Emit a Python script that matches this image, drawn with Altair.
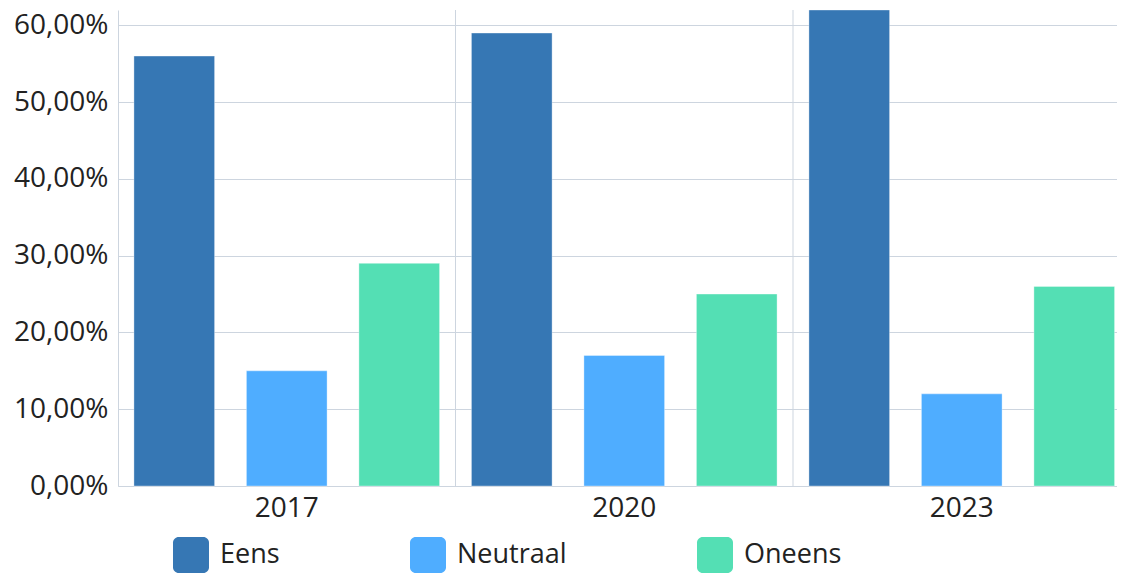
import altair as alt
import pandas as pd

years = ["2017", "2020", "2023"]
categories = ["Eens", "Neutraal", "Oneens"]
eens = [56, 59, 62]
neutraal = [15, 17, 12]
oneens = [29, 25, 26]
colors = ["#3677B4", "#4FADFF", "#54DFB4"]

rows = []
for i, y in enumerate(years):
    for c, vals in zip(categories, [eens, neutraal, oneens]):
        rows.append({"year": y, "cat": c, "value": vals[i]})
df = pd.DataFrame(rows)
sep = pd.DataFrame({"year": years[1:]})

FONT = "Open Sans"
FS = 28
LFS = 27
GRID = "#CDD5DF"
rounded = ("M -1 -0.68 A 0.32 0.32 0 0 1 -0.68 -1 L 0.68 -1 A 0.32 0.32 0 0 1 1 -0.68 "
           "L 1 0.68 A 0.32 0.32 0 0 1 0.68 1 L -0.68 1 A 0.32 0.32 0 0 1 -1 0.68 Z")

xscale = alt.Scale(domain=years, paddingInner=0, paddingOuter=0, range=[0, 1012.5])

bars = alt.Chart(df).mark_bar(stroke="white", strokeOpacity=0.35, strokeWidth=1).encode(
    x=alt.X("year:N", scale=xscale, title=None,
            axis=alt.Axis(labelAngle=0, labelFontSize=FS, labelFont=FONT, labelColor="#222",
                          labelPadding=8, ticks=False, domainColor=GRID, grid=False)),
    xOffset=alt.XOffset("cat:N", sort=categories,
                        scale=alt.Scale(paddingInner=0.283, paddingOuter=0.1416)),
    y=alt.Y("value:Q", scale=alt.Scale(domain=[0, 62], nice=False), title=None,
            axis=alt.Axis(values=[0, 10, 20, 30, 40, 50, 60],
                          labelExpr="replace(format(datum.value, '.2f'), '.', ',') + '%'",
                          labelFontSize=FS, labelFont=FONT, labelColor="#222", labelPadding=10,
                          ticks=False, domainColor=GRID, gridColor=GRID)),
    color=alt.Color("cat:N", sort=categories,
                    scale=alt.Scale(domain=categories, range=colors),
                    legend=alt.Legend(title=None, orient="none", direction="horizontal",
                                      legendX=55, legendY=527, symbolType=rounded,
                                      symbolSize=1296, symbolStrokeWidth=0,
                                      symbolOpacity=1, labelFontSize=LFS, labelFont=FONT,
                                      labelColor="#222", labelOffset=11, columnPadding=130)),
)

rules = alt.Chart(sep).mark_rule(color=GRID, strokeWidth=1).encode(
    x=alt.X("year:N", scale=xscale, bandPosition=0)
)

chart = alt.layer(bars, rules).properties(
    width=997, height=476,
    autosize=alt.AutoSizeParams(type="none"),
    padding={"left": 110, "top": 2, "right": 2, "bottom": 87},
).configure_view(stroke=None)

chart.save("out.html", embed_options={"renderer": "svg", "actions": False})
